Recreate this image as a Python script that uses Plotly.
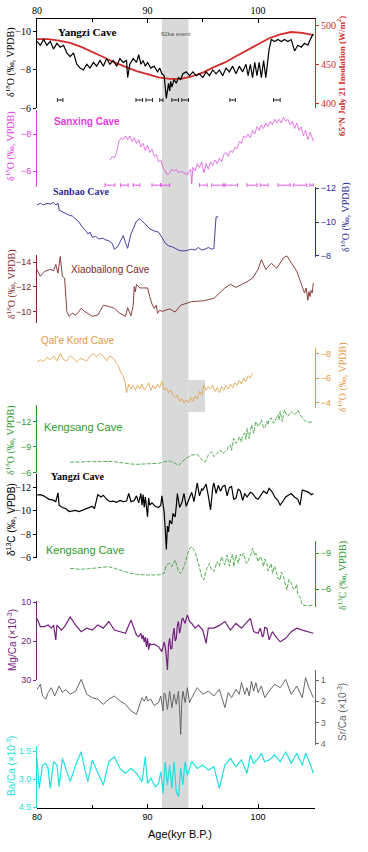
import plotly.graph_objects as go

# ---------------- data ----------------
yz18_age = [80.0, 80.3, 80.6, 80.9, 81.2, 81.5, 81.8, 82.1, 82.4, 82.7,
            83.0, 83.3, 83.6, 83.9, 84.2, 84.5, 84.8, 85.1, 85.4, 85.7,
            86.0, 86.3, 86.6, 86.9, 87.2, 87.5, 87.8, 88.1, 88.2, 88.4,
            88.7, 89.0, 89.2, 89.4, 89.6, 89.8, 90.0, 90.3, 90.6, 90.9,
            91.1, 91.3, 91.5, 91.6, 91.7, 91.8, 91.9, 92.0, 92.1, 92.2,
            92.4, 92.6, 92.8, 93.0, 93.2, 93.5, 93.8, 94.1, 94.4, 94.7,
            95.0, 95.3, 95.6, 95.9, 96.2, 96.5, 96.8, 97.1, 97.4, 97.7,
            98.0, 98.3, 98.6, 98.9, 99.1, 99.3, 99.5, 99.7, 99.9, 100.1,
            100.3, 100.5, 100.7, 100.9, 101.0, 101.2, 101.5, 101.8, 102.1, 102.4,
            102.7, 103.0, 103.3, 103.6, 103.9, 104.2, 104.5, 104.8, 105.0]
yz18_val = [-9.5, -9.3, -9.6, -9.3, -9.5, -9.1, -9.4, -9.2, -9.3, -8.9,
            -8.7, -8.9, -8.3, -8.1, -8.0, -8.3, -8.1, -8.4, -8.2, -8.5,
            -8.2, -8.6, -8.3, -8.5, -8.2, -8.6, -8.4, -8.5, -7.6, -8.3,
            -8.6, -8.4, -8.8, -8.3, -8.5, -8.2, -8.4, -8.1, -8.2, -7.9,
            -8.1, -7.8, -7.7, -7.0, -6.5, -6.9, -7.3, -6.9, -7.4, -7.1,
            -7.5, -7.3, -7.6, -7.5, -7.8, -7.9, -7.7, -7.9, -7.7, -7.8,
            -7.6, -7.9, -7.7, -8.0, -7.8, -8.0, -7.7, -8.1, -7.9, -8.2,
            -7.8, -8.2, -7.9, -8.3, -7.7, -8.3, -7.6, -8.4, -7.7, -8.4,
            -7.6, -8.5, -7.6, -8.6, -9.1, -9.6, -9.5, -9.6, -9.5, -9.6,
            -9.5, -9.6, -9.0, -9.3, -9.2, -9.4, -9.3, -9.7, -9.9]

yz_date_age = [82.1, 89.25, 90.15, 91.25, 92.5, 93.4, 97.7, 101.7]
yz_date_err = [0.25, 0.3, 0.3, 0.15, 0.3, 0.3, 0.25, 0.3]
yz_date_val = [-6.42, -6.42, -6.42, -6.42, -6.42, -6.42, -6.42, -6.42]

ins_age = [80, 81, 82, 83, 84, 85, 86, 87, 88, 89, 90, 91, 92,
           93, 94, 95, 96, 97, 98, 99, 100, 101, 102, 103, 104, 105]
ins_val = [482, 482, 480, 477, 472, 466, 459, 452, 446, 441, 437, 433, 431,
           431, 434, 439, 446, 452, 460, 468, 476, 483, 488, 491, 490, 487]

sx_age = [86.6, 86.8, 87.0, 87.2, 87.4, 87.6, 87.8, 88.0, 88.2, 88.4,
          88.6, 88.8, 89.0, 89.2, 89.4, 89.6, 89.8, 90.0, 90.2, 90.4,
          90.6, 90.8, 91.0, 91.2, 91.4, 91.6, 91.8, 92.0, 92.2, 92.4,
          92.6, 92.8, 93.0, 93.3, 93.6, 93.9, 94.0, 94.1, 94.3, 94.5,
          94.7, 94.9, 95.1, 95.3, 95.5, 95.7, 95.9, 96.1, 96.3, 96.5,
          96.7, 96.9, 97.1, 97.3, 97.5, 97.7, 97.9, 98.1, 98.3, 98.5,
          98.7, 98.9, 99.1, 99.3, 99.5, 99.7, 99.9, 100.1, 100.3, 100.5,
          100.7, 100.9, 101.1, 101.3, 101.5, 101.7, 101.9, 102.1, 102.3, 102.5,
          102.7, 102.9, 103.1, 103.3, 103.5, 103.7, 103.9, 104.1, 104.3, 104.5,
          104.7, 104.9, 105.0]
sx_val = [-6.6, -6.8, -6.7, -7.0, -7.6, -7.8, -7.7, -7.9, -7.7, -7.9,
          -7.6, -7.8, -7.5, -7.7, -7.3, -7.5, -7.1, -7.4, -7.0, -7.2,
          -6.8, -6.9, -6.5, -6.6, -6.2, -6.0, -5.8, -5.9, -6.1, -6.0,
          -6.1, -5.9, -6.0, -5.9, -5.8, -6.1, -5.3, -6.2, -6.0, -6.4,
          -6.2, -6.5, -5.9, -6.4, -6.1, -6.5, -6.3, -6.6, -6.4, -6.7,
          -6.5, -6.9, -7.0, -6.8, -7.1, -7.0, -7.3, -7.2, -7.6, -7.5,
          -7.9, -7.8, -8.0, -7.8, -8.2, -8.0, -8.4, -8.2, -8.5, -8.3,
          -8.6, -8.4, -8.7, -8.5, -8.8, -8.6, -8.8, -8.6, -8.9, -8.7,
          -8.8, -8.5, -8.7, -8.3, -8.6, -8.2, -8.4, -7.9, -8.2, -7.7,
          -8.1, -7.8, -7.6]

sx_date_age = [86.6, 87.9, 89.0, 90.8, 91.6, 95.05, 96.4, 97.5, 99.45, 100.55, 102.35, 103.8, 104.85]
sx_date_err = [0.45, 0.35, 0.3, 0.4, 0.4, 0.35, 0.6, 0.65, 0.45, 0.35, 0.55, 0.6, 0.15]
sx_date_val = [-5.24, -5.24, -5.24, -5.24, -5.24, -5.24, -5.24, -5.24, -5.24, -5.24, -5.24, -5.24, -5.24]

sb_age = [80.0, 80.3, 80.6, 80.9, 81.2, 81.5, 81.7, 81.9, 82.0, 82.3,
          82.6, 82.9, 83.2, 83.5, 83.8, 84.1, 84.4, 84.6, 84.8, 85.0,
          85.3, 85.6, 85.9, 86.2, 86.5, 86.8, 87.0, 87.3, 87.6, 87.8,
          88.0, 88.2, 88.5, 88.8, 89.0, 89.3, 89.6, 89.9, 90.2, 90.5,
          90.8, 91.0, 91.3, 91.6, 91.9, 92.2, 92.5, 92.8, 93.1, 93.4,
          93.7, 94.0, 94.3, 94.6, 94.9, 95.2, 95.5, 95.8, 96.0, 96.2,
          96.4]
sb_val = [-11.0, -11.1, -11.0, -11.1, -11.05, -11.15, -11.0, -11.1, -10.7, -10.6,
          -10.5, -10.4, -10.35, -10.2, -10.0, -9.7, -9.5, -9.3, -9.4, -9.1,
          -9.15, -9.0, -9.05, -8.95, -8.9, -8.75, -8.4, -8.55, -8.9, -9.2,
          -8.8, -8.45, -9.3, -9.8, -10.05, -10.2, -10.0, -9.75, -9.6, -9.5,
          -9.45, -9.4, -9.1, -8.75, -8.6, -8.55, -8.45, -8.35, -8.3, -8.3,
          -8.35, -8.4, -8.35, -8.5, -8.35, -8.4, -8.5, -8.4, -8.45, -10.3,
          -10.3]

xb_age = [80.0, 80.3, 80.7, 81.2, 81.5, 81.7, 81.9, 82.1, 82.3, 82.5,
          82.7, 82.9, 83.2, 83.5, 83.8, 84.0, 84.3, 84.6, 85.0, 85.5,
          86.0, 86.5, 87.0, 87.5, 88.0, 88.2, 88.5, 88.7, 88.8, 88.9,
          89.0, 89.3, 90.0, 90.2, 90.4, 90.6, 90.8, 90.9, 91.1, 91.3,
          92.0, 92.5, 93.0, 94.0, 95.0, 96.0, 97.0, 97.5, 98.0, 99.0,
          99.5, 100.0, 100.3, 100.7, 101.2, 101.7, 102.3, 102.6, 103.5, 104.0,
          104.2, 104.35, 104.5, 104.6, 104.7, 104.8, 104.9, 105.0]
xb_val = [-13.4, -12.85, -13.25, -13.4, -13.3, -13.8, -13.1, -14.45, -12.85, -12.7,
          -10.0, -9.6, -9.85, -9.7, -10.0, -10.25, -10.0, -9.85, -9.6, -9.7,
          -10.5, -10.4, -10.25, -9.85, -9.6, -10.3, -9.65, -10.5, -12.0, -11.6,
          -12.2, -11.9, -11.9, -11.2, -10.6, -10.25, -10.5, -9.85, -10.1, -10.0,
          -10.2, -9.95, -10.5, -10.8, -10.85, -11.05, -11.9, -12.2, -11.95, -12.4,
          -12.7, -13.4, -14.2, -13.4, -13.9, -13.5, -14.35, -14.5, -13.25, -12.0,
          -11.5, -11.9, -10.9, -11.6, -11.2, -11.7, -11.5, -12.3]

qk_age = [80.0, 80.3, 80.6, 80.9, 81.2, 81.5, 81.8, 82.1, 82.4, 82.7,
          83.0, 83.3, 83.6, 83.9, 84.2, 84.5, 84.8, 85.1, 85.4, 85.7,
          86.0, 86.3, 86.6, 86.9, 87.2, 87.4, 87.6, 87.8, 88.0, 88.1,
          88.3, 88.5, 88.7, 88.9, 89.1, 89.3, 89.5, 89.7, 89.9, 90.1,
          90.3, 90.5, 90.7, 90.9, 91.1, 91.3, 91.5, 91.7, 91.9, 92.1,
          92.3, 92.5, 92.7, 92.9, 93.1, 93.3, 93.5, 93.7, 93.9, 94.1,
          94.3, 94.5, 94.7, 94.9, 95.1, 95.3, 95.5, 95.7, 95.9, 96.1,
          96.3, 96.5, 96.7, 96.9, 97.1, 97.3, 97.5, 97.7, 97.9, 98.1,
          98.3, 98.5, 98.7, 98.9, 99.1, 99.3, 99.5]
qk_val = [-7.3, -7.5, -7.35, -7.7, -7.5, -7.8, -7.4, -8.0, -7.5, -7.4,
          -7.8, -7.6, -7.3, -7.6, -7.5, -7.4, -7.8, -8.0, -7.7, -8.0,
          -7.8, -7.4, -7.8, -7.6, -7.2, -6.9, -6.4, -6.2, -5.5, -4.8,
          -5.5, -5.1, -5.4, -5.0, -5.4, -5.1, -5.5, -5.0, -5.3, -5.6,
          -5.0, -5.4, -5.1, -5.5, -5.2, -5.7, -5.0, -5.2, -4.8, -5.0,
          -4.6, -4.4, -4.6, -4.1, -4.3, -3.95, -4.2, -4.0, -4.4, -4.1,
          -4.5, -4.3, -4.9, -4.6, -5.4, -5.0, -5.3, -5.1, -5.4, -4.9,
          -5.2, -4.8, -5.3, -5.0, -5.4, -5.1, -5.5, -5.2, -5.6, -5.4,
          -5.8, -5.5, -6.0, -5.7, -6.2, -6.0, -6.4]

ks_age = [83.0, 83.5, 84.0, 84.5, 85.0, 85.5, 86.0, 86.5, 87.0, 87.5,
          88.0, 88.5, 89.0, 89.5, 90.0, 90.5, 91.0, 91.5, 92.0, 92.5,
          92.8, 93.2, 93.5, 94.0, 94.5, 94.8, 95.2, 95.5, 95.8, 96.0,
          96.3, 96.6, 96.8, 97.0, 97.2, 97.3, 97.5, 97.6, 97.8, 98.0,
          98.2, 98.3, 98.5, 98.6, 98.8, 98.9, 99.0, 99.2, 99.3, 99.4,
          99.6, 99.7, 99.8, 100.0, 100.2, 100.3, 100.5, 100.6, 100.8, 100.9,
          101.0, 101.2, 101.4, 101.5, 101.7, 101.8, 101.9, 102.0, 102.1, 102.2,
          102.3, 102.4, 102.6, 102.7, 102.9, 103.0, 103.2, 103.3, 103.5, 103.6,
          103.8, 104.0, 104.3, 104.7, 105.0]
ks_val = [-7.2, -7.25, -7.2, -7.3, -7.27, -7.3, -7.35, -7.3, -7.27, -7.15,
          -7.08, -7.0, -6.96, -7.0, -7.04, -7.05, -7.08, -7.27, -7.35, -7.08,
          -6.8, -7.35, -7.67, -8.06, -8.13, -7.67, -7.2, -8.06, -8.45, -7.86,
          -8.25, -8.65, -8.2, -8.45, -8.7, -9.04, -9.24, -8.6, -10.0, -9.43,
          -9.8, -10.2, -9.6, -10.4, -10.6, -9.9, -11.2, -10.0, -11.0, -11.6,
          -10.6, -11.3, -12.0, -11.4, -11.8, -12.2, -11.3, -11.2, -12.0, -11.6,
          -12.3, -12.4, -11.8, -12.0, -12.6, -12.8, -12.2, -13.2, -12.5, -12.0,
          -12.9, -13.35, -12.7, -12.6, -13.0, -13.2, -12.9, -12.8, -13.1, -13.35,
          -12.8, -12.4, -12.0, -11.9, -12.0]

yc_age = [80.0, 80.3, 80.6, 80.9, 81.1, 81.4, 81.7, 81.9, 82.0, 82.3,
          82.6, 82.9, 83.2, 83.5, 83.8, 84.1, 84.4, 84.7, 85.0, 85.2,
          85.5, 85.8, 86.0, 86.3, 86.6, 86.9, 87.2, 87.5, 87.8, 88.1,
          88.3, 88.5, 88.8, 89.0, 89.2, 89.4, 89.5, 89.6, 89.7, 89.8,
          89.9, 90.0, 90.1, 90.2, 90.4, 90.7, 91.0, 91.2, 91.3, 91.5,
          91.6, 91.7, 91.8, 91.9, 92.0, 92.2, 92.3, 92.5, 92.6, 92.7,
          92.9, 93.1, 93.3, 93.5, 93.7, 93.8, 94.0, 94.2, 94.4, 94.5,
          94.7, 94.9, 95.0, 95.2, 95.3, 95.5, 95.7, 95.9, 96.0, 96.2,
          96.4, 96.6, 96.8, 97.0, 97.2, 97.4, 97.6, 97.8, 98.0, 98.2,
          98.4, 98.6, 98.8, 99.0, 99.3, 99.5, 99.8, 100.0, 100.3, 100.5,
          100.8, 101.0, 101.3, 101.5, 101.8, 102.0, 102.3, 102.5, 102.8, 103.0,
          103.3, 103.6, 103.8, 104.0, 104.3, 104.6, 104.8, 105.0]
yc_val = [-11.37, -11.4, -11.3, -11.15, -11.0, -10.95, -10.8, -11.55, -10.5, -10.3,
          -10.2, -9.95, -10.0, -10.05, -9.95, -10.05, -10.2, -10.3, -10.4, -10.2,
          -11.4, -11.2, -11.35, -11.0, -10.8, -10.85, -10.75, -10.9, -10.8, -10.85,
          -11.5, -10.8, -10.9, -11.3, -10.7, -11.5, -10.5, -11.4, -10.3, -11.2,
          -10.4, -9.5, -11.1, -10.5, -10.7, -10.4, -10.3, -10.5, -11.3, -9.9,
          -8.5, -6.7, -8.7, -8.2, -9.2, -8.9, -9.8, -9.5, -10.4, -11.5,
          -10.3, -10.7, -11.5, -10.4, -10.9, -11.2, -11.6, -10.8, -11.9, -12.4,
          -11.3, -11.9, -11.8, -12.2, -12.3, -11.3, -10.1, -12.0, -12.4, -11.5,
          -12.2, -11.7, -12.1, -12.2, -11.3, -12.0, -12.1, -11.0, -11.1, -11.9,
          -11.7, -10.9, -11.5, -11.2, -11.6, -11.5, -11.1, -11.0, -11.4, -11.7,
          -11.5, -11.94, -11.6, -11.2, -10.9, -10.5, -10.9, -11.2, -11.4, -11.5,
          -11.2, -11.0, -10.5, -11.8, -11.7, -11.6, -11.4, -11.5]

kc_age = [83.0, 84.0, 85.0, 86.0, 86.5, 87.0, 87.5, 88.0, 88.5, 89.0,
          90.0, 91.0, 91.5, 91.7, 92.0, 92.2, 92.5, 92.8, 93.0, 93.3,
          93.6, 93.8, 94.0, 94.3, 94.6, 94.9, 95.1, 95.3, 95.6, 95.8,
          96.0, 96.3, 96.5, 96.7, 96.9, 97.0, 97.2, 97.4, 97.5, 97.7,
          97.8, 98.0, 98.2, 98.4, 98.5, 98.7, 98.9, 99.0, 99.2, 99.4,
          99.5, 99.7, 99.8, 100.0, 100.2, 100.3, 100.5, 100.6, 100.8, 100.9,
          101.0, 101.2, 101.3, 101.5, 101.6, 101.8, 102.0, 102.1, 102.3, 102.5,
          102.6, 102.8, 103.0, 103.2, 103.3, 103.5, 103.6, 103.8, 104.0, 104.5,
          105.0]
kc_val = [-7.72, -7.64, -7.72, -7.81, -7.86, -7.72, -7.55, -7.44, -7.3, -7.22,
          -7.17, -7.17, -7.31, -8.0, -8.14, -7.86, -8.42, -7.44, -7.31, -7.86,
          -8.83, -9.39, -9.53, -9.1, -8.14, -7.03, -6.75, -7.58, -8.14, -7.6,
          -7.44, -8.28, -7.9, -8.69, -8.2, -8.0, -8.83, -7.9, -8.42, -8.9,
          -7.86, -8.83, -8.14, -8.9, -8.69, -8.97, -8.2, -8.14, -8.56, -9.0,
          -9.39, -8.8, -8.97, -8.28, -8.7, -8.56, -7.86, -8.5, -8.14, -7.5,
          -7.72, -8.1, -7.31, -7.9, -7.58, -6.9, -6.75, -7.4, -7.03, -6.3,
          -5.92, -6.8, -6.47, -6.0, -5.92, -6.4, -5.5, -5.3, -4.67, -4.58,
          -4.67]

mg_age = [80.0, 80.3, 80.7, 81.0, 81.3, 81.5, 81.7, 81.8, 82.2, 82.5,
          83.0, 83.5, 84.0, 84.5, 85.0, 85.5, 86.0, 86.5, 87.0, 87.5,
          88.0, 88.5, 89.0, 89.2, 89.4, 89.5, 89.6, 89.7, 89.8, 89.9,
          90.0, 90.1, 90.2, 90.3, 90.6, 91.0, 91.3, 91.5, 91.6, 91.7,
          91.8, 91.9, 92.0, 92.1, 92.2, 92.3, 92.4, 92.5, 92.6, 92.7,
          92.8, 92.9, 93.0, 93.1, 93.2, 93.4, 93.6, 93.8, 94.0, 94.3,
          94.6, 95.0, 95.3, 95.5, 96.0, 96.5, 97.0, 97.5, 98.0, 98.5,
          99.0, 99.3, 99.6, 100.0, 100.2, 100.4, 100.5, 100.6, 100.8, 101.0,
          101.3, 101.6, 102.0, 102.5, 103.0, 103.5, 104.0, 104.5, 105.0]
mg_val = [14.2, 16.3, 16.3, 15.9, 16.7, 15.9, 19.7, 15.9, 17.2, 16.3,
          13.8, 15.9, 17.6, 16.7, 17.2, 15.9, 16.7, 15.0, 17.2, 17.6,
          18.0, 14.6, 18.5, 18.9, 18.0, 19.5, 18.5, 20.3, 19.0, 21.5,
          19.3, 22.2, 20.6, 21.0, 20.8, 21.5, 22.7, 20.2, 21.5, 24.0,
          27.4, 21.0, 19.3, 22.0, 21.9, 18.5, 16.7, 20.0, 19.3, 16.0,
          15.0, 18.0, 16.7, 14.5, 14.2, 15.5, 13.3, 15.0, 15.5, 16.7,
          15.9, 17.2, 20.6, 16.7, 16.7, 16.0, 15.0, 17.2, 15.5, 16.7,
          15.0, 14.2, 17.6, 18.0, 16.7, 19.0, 18.5, 16.5, 16.7, 19.7,
          17.6, 18.9, 20.2, 19.3, 17.6, 16.7, 17.2, 17.6, 18.0]

sr_age = [80.0, 80.3, 80.5, 80.8, 81.0, 81.3, 81.6, 82.0, 82.3, 82.6,
          83.0, 83.5, 84.0, 84.5, 85.0, 85.5, 86.0, 86.5, 87.0, 87.5,
          88.0, 88.5, 89.0, 89.3, 89.5, 89.7, 89.9, 90.0, 90.3, 90.6,
          91.0, 91.2, 91.4, 91.5, 91.6, 91.8, 92.0, 92.2, 92.4, 92.6,
          92.8, 92.9, 93.0, 93.1, 93.2, 93.4, 93.6, 93.8, 94.0, 94.5,
          95.0, 95.5, 96.0, 96.5, 97.0, 97.3, 97.6, 98.0, 98.3, 98.5,
          98.8, 99.0, 99.2, 99.4, 99.6, 99.8, 100.0, 100.3, 100.6, 101.0,
          101.5, 102.0, 102.5, 103.0, 103.5, 104.0, 104.3, 104.6, 105.0]
sr_val = [1.44, 1.2, 1.75, 1.9, 1.6, 1.36, 1.75, 1.28, 1.59, 1.44,
          1.67, 1.52, 0.97, 1.67, 1.83, 1.9, 2.14, 1.9, 1.75, 1.98,
          2.14, 2.45, 2.61, 2.14, 1.83, 2.0, 1.75, 1.98, 1.9, 2.2,
          2.06, 1.75, 2.45, 1.6, 1.67, 2.38, 1.52, 2.3, 1.67, 2.14,
          1.52, 2.4, 3.55, 2.0, 1.52, 2.06, 1.36, 2.06, 1.83, 1.36,
          1.67, 1.52, 1.75, 1.44, 2.3, 1.59, 1.83, 1.44, 1.67, 1.12,
          1.67, 1.36, 1.75, 1.05, 1.52, 1.12, 1.59, 1.28, 1.83, 1.52,
          1.2, 1.36, 0.97, 1.67, 1.28, 1.83, 0.89, 1.36, 1.83]

ba_age = [80.0, 80.2, 80.5, 80.8, 81.0, 81.2, 81.5, 81.8, 82.0, 82.3,
          82.6, 83.0, 83.5, 84.0, 84.3, 84.6, 85.0, 85.5, 86.0, 86.5,
          87.0, 87.5, 88.0, 88.5, 89.0, 89.5, 89.8, 90.0, 90.3, 90.7,
          91.0, 91.2, 91.4, 91.6, 91.8, 92.0, 92.2, 92.4, 92.6, 92.8,
          93.0, 93.2, 93.4, 93.6, 94.0, 94.5, 95.0, 95.5, 96.0, 96.5,
          97.0, 97.5, 98.0, 98.5, 99.0, 99.3, 99.6, 100.0, 100.3, 100.6,
          101.0, 101.5, 102.0, 102.5, 103.0, 103.5, 104.0, 104.3, 104.7, 105.0]
ba_val = [1.89, 3.5, 2.25, 2.16, 2.43, 3.5, 2.07, 2.25, 3.41, 1.89,
          2.43, 3.14, 2.25, 1.54, 2.43, 3.14, 1.98, 2.61, 3.32, 2.07,
          1.8, 2.43, 2.69, 2.43, 2.69, 3.14, 1.8, 3.23, 2.96, 3.41,
          3.23, 2.61, 3.77, 2.07, 3.32, 2.25, 3.5, 2.07, 3.68, 3.95,
          2.43, 3.32, 2.07, 2.79, 2.07, 2.43, 2.25, 2.52, 2.34, 3.5,
          2.25, 1.89, 2.34, 1.98, 2.69, 1.71, 2.16, 1.89, 1.62, 2.07,
          1.98, 1.71, 2.07, 1.54, 2.16, 1.62, 2.25, 1.62, 2.16, 2.69]

age_ticks = [80, 90, 100]
event_start, event_end = 91.3, 93.7      # shaded "92ka event" interval
qk_box_start, qk_box_end = 93.7, 95.2

# ---------------- geometry / style ----------------
W, H = 368, 852
PLOT_L, PLOT_T, PW, PH = 37, 19, 278, 789
ML, MT = PLOT_L, PLOT_T
MR, MB = W - ML - PW, H - MT - PH
PLOT_B = PLOT_T + PH
SERIF, SANS = "Liberation Serif", "Liberation Sans"


def fy(p):
    return (PLOT_B - p) / PH


def fx(p):
    return (p - PLOT_L) / PW


C_INS = '#d42a2a'
C_SX = '#e03ce0'
C_SB = '#2c2c95'
C_XB = '#7f2a2a'
C_QK = '#e39a3e'
C_KS = '#2e9a2e'
C_MG = '#74207f'
C_SR = '#666666'
C_BA = '#1ee0e0'

fig = go.Figure()


def line(x, y, xa, ya, color, width, dash='solid'):
    fig.add_trace(go.Scatter(x=x, y=y, xaxis=xa, yaxis=ya, mode='lines',
                             line=dict(color=color, width=width, dash=dash),
                             hoverinfo='skip', showlegend=False))


line(yz18_age, yz18_val, 'x2', 'y', 'black', 1.2)
line(ins_age, ins_val, 'x', 'y2', C_INS, 1.8)
line(sx_age, sx_val, 'x', 'y3', C_SX, 0.7)
line(sb_age, sb_val, 'x', 'y4', C_SB, 0.9)
line(xb_age, xb_val, 'x', 'y5', C_XB, 0.9)
line(qk_age, qk_val, 'x', 'y6', C_QK, 0.8)
line(ks_age, ks_val, 'x', 'y7', C_KS, 0.8, '4px,1.5px')
line(yc_age, yc_val, 'x', 'y8', 'black', 1.2)
line(kc_age, kc_val, 'x', 'y9', C_KS, 0.8, '4px,1.5px')
line(mg_age, mg_val, 'x', 'y10', C_MG, 1.2)
line(sr_age, sr_val, 'x', 'y11', C_SR, 1.0)
line(ba_age, ba_val, 'x', 'y12', C_BA, 1.2)


def dates(x, y, err, ya, color):
    fig.add_trace(go.Scatter(x=x, y=y, xaxis='x', yaxis=ya, mode='markers',
                             marker=dict(size=1, color=color),
                             error_x=dict(type='data', array=err, color=color,
                                          thickness=0.8, width=2),
                             hoverinfo='skip', showlegend=False))


dates(yz_date_age, yz_date_val, yz_date_err, 'y', 'black')
dates(sx_date_age, sx_date_val, sx_date_err, 'y3', C_SX)


def yax(dom, rng, color, side, tickvals, font=SANS, size=9, fmt=None, overlaying=None):
    d = dict(range=rng, anchor='x', side=side, showline=True, linecolor=color,
             linewidth=1, ticks='outside', ticklen=3, tickcolor=color,
             tickvals=tickvals, tickfont=dict(family=font, size=size, color=color),
             showgrid=False, zeroline=False, automargin=False, fixedrange=True)
    if overlaying:
        d['overlaying'] = overlaying
    else:
        d['domain'] = [fy(dom[1]), fy(dom[0])]
    if fmt:
        d['tickformat'] = fmt
    return d


layout_axes = dict(
    yaxis=yax((19, 108), [-6, -10.68], 'black', 'left', [-10, -8, -6], SERIF, 10),
    yaxis2=yax(None, [393.6, 507.7], C_INS, 'right', [400, 450, 500], SERIF, 10, overlaying='y'),
    yaxis3=yax((110, 187), [-5.14, -9.3], C_SX, 'left', [-8, -6]),
    yaxis4=yax((187, 257), [-7.94, -12.06], C_SB, 'right', [-12, -10, -8]),
    yaxis5=yax((255, 323), [-9.06, -14.57], C_XB, 'left', [-14, -12, -10]),
    yaxis6=yax((348, 408), [-3.55, -8.45], C_QK, 'right', [-8, -6, -4]),
    yaxis7=yax((405, 473), [-5.94, -13.94], C_KS, 'left', [-12, -9, -6]),
    yaxis8=yax((474, 558), [-5.97, -13.17], 'black', 'left', [-12, -10, -8, -6], SERIF, 10),
    yaxis9=yax((541, 607), [-4.5, -10.0], C_KS, 'right', [-9, -6]),
    yaxis10=yax((601, 680), [30, 9.74], C_MG, 'left', [10, 20, 30]),
    yaxis11=yax((670, 745), [4.05, 0.53], C_SR, 'right', [1, 2, 3, 4]),
    yaxis12=yax((746, 808), [4.55, 1.23], C_BA, 'left', [1.5, 3.0, 4.5], fmt='.1f'),
)

xcommon = dict(range=[80, 105.15], showline=True, linecolor='black', linewidth=1,
               ticks='inside', ticklen=4, tickcolor='black', tickvals=age_ticks,
               showgrid=False, zeroline=False, automargin=False, fixedrange=True,
               minor=dict(tickvals=[85, 95], ticks='inside', ticklen=3, tickcolor='black'))

fig.update_layout(
    width=W, height=H, margin=dict(l=ML, r=MR, t=MT, b=MB, pad=0),
    template='none', paper_bgcolor='white', plot_bgcolor='rgba(0,0,0,0)',
    showlegend=False,
    xaxis=dict(**xcommon, domain=[0, 1], anchor='free', position=0, side='bottom',
               tickfont=dict(family=SANS, size=9, color='black')),
    xaxis2=dict(**xcommon, overlaying='x', anchor='y', side='top',
                tickfont=dict(family=SERIF, size=10, color='black')),
    **layout_axes,
)

fig.add_shape(type='rect', xref='x', yref='paper', x0=event_start, x1=event_end,
              y0=0, y1=1, fillcolor='#d9d9d9', line_width=0, layer='below')
fig.add_shape(type='rect', xref='x', yref='paper', x0=qk_box_start, x1=qk_box_end,
              y0=fy(412), y1=fy(380), fillcolor='#d9d9d9', line_width=0, layer='below')


def ann(text, x, y, color, size, family, angle=0, xanchor='center', bold=False):
    if bold:
        text = '<b>' + text + '</b>'
    fig.add_annotation(text=text, x=fx(x), y=fy(y), xref='paper', yref='paper',
                       showarrow=False, textangle=angle, xanchor=xanchor, yanchor='middle',
                       font=dict(color=color, size=size, family=family))


D18 = 'δ<sup>18</sup>O (‰, VPDB)'
D13 = 'δ<sup>13</sup>C (‰, VPDB)'
ann('Yangzi Cave', 56, 32, 'black', 11, SERIF, xanchor='left', bold=True)
ann('92ka event', 175.5, 34, '#555555', 6, SANS)
ann(D18, 11, 62, 'black', 10, SERIF, -90)
ann('65°N July 21 Insolation (W/m<sup>2</sup>)', 341, 76, C_INS, 9, SERIF, -90, bold=True)
ann('Sanxing Cave', 52, 121, C_SX, 10, SANS, xanchor='left', bold=True)
ann(D18, 11, 146, C_SX, 10, SERIF, -90)
ann('Sanbao Cave', 51, 192, C_SB, 10, SERIF, xanchor='left', bold=True)
ann(D18, 345, 217, C_SB, 10, SERIF, -90)
ann('Xiaobailong Cave', 69, 269, C_XB, 10, SANS, xanchor='left')
ann(D18, 11, 284, C_XB, 10, SERIF, -90)
ann("Qal'e Kord Cave", 39, 340, C_QK, 10, SANS, xanchor='left')
ann(D18, 342, 377, C_QK, 10, SERIF, -90)
ann('Kengsang Cave', 42, 427, C_KS, 11, SANS, xanchor='left')
ann(D18, 11, 440, C_KS, 10, SERIF, -90)
ann('Yangzi Cave', 49, 477, 'black', 10, SERIF, xanchor='left', bold=True)
ann(D13, 11, 520, 'black', 10, SANS, -90)
ann('Kengsang Cave', 44, 550, C_KS, 11, SANS, xanchor='left')
ann(D13, 342, 576, C_KS, 10, SERIF, -90)
ann('Mg/Ca (×10<sup>-3</sup>)', 12, 640, C_MG, 10, SANS, -90)
ann('Sr/Ca (×10<sup>-3</sup>)', 342, 712, C_SR, 10, SANS, -90)
ann('Ba/Ca (×10<sup>-3</sup>)', 11, 766, C_BA, 10, SANS, -90)
ann('Age(kyr B.P.)', 180, 834, 'black', 11, SANS)

# remove the browser's default 8px page margin so the figure fills the window,
# and hide the interactive mode bar
fig.write_html("out.html", config={'displayModeBar': False},
               post_script="document.body.style.margin='0px';")
